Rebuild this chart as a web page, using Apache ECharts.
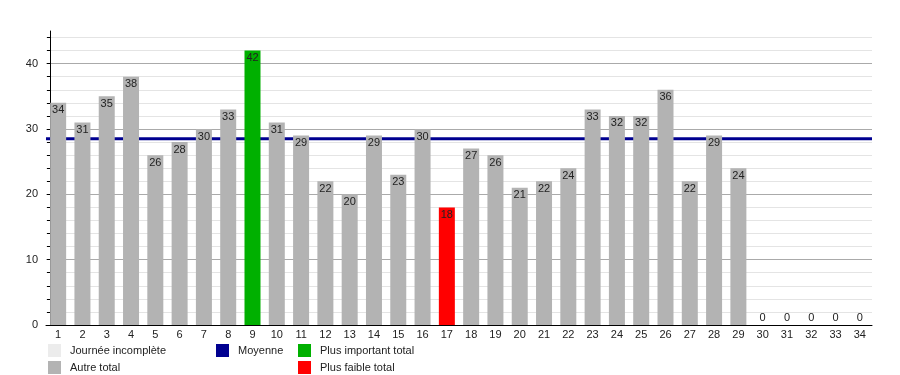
<!DOCTYPE html>
<html>
<head>
<meta charset="utf-8">
<script src="https://cdn.jsdelivr.net/npm/echarts@6/dist/echarts.min.js"></script>
<style>
  html, body { margin: 0; padding: 0; background: #fff; }
  #chart { width: 900px; height: 375px; }
</style>
</head>
<body>
<div id="chart"></div>
<script>
// jours du mois
var days = [];
for (var d = 1; d <= 34; d++) days.push(String(d));

// totaux journaliers
var totals = [34, 31, 35, 38, 26, 28, 30, 33, 42, 31, 29, 22, 20, 29, 23, 30, 18,
  27, 26, 21, 22, 24, 33, 32, 32, 36, 22, 29, 24, 0, 0, 0, 0, 0];
var maxDay = 9;   // plus important total
var minDay = 17;  // plus faible total
var moyenne = 28.5;

var font = 'Liberation Sans, Arial, sans-serif';

// une série par couleur, empilées pour garder la même place
var autre = totals.map(function(v, i) {
  if (i + 1 === maxDay || i + 1 === minDay) return '-';
  if (v === 0) return { value: 0, label: { position: 'top', distance: 2 } };
  return v;
});
var haut = totals.map(function(v, i) { return i + 1 === maxDay ? v : '-'; });
var bas = totals.map(function(v, i) { return i + 1 === minDay ? v : '-'; });

var barLabel = {
  show: true,
  position: 'insideTop',
  distance: 2,
  fontSize: 11,
  fontFamily: font,
  color: '#222'
};

// une légende par entrée, placée à la main
function legendItem(name, left, top) {
  return {
    left: left, top: top, orient: 'horizontal', itemGap: 0,
    itemWidth: 13, itemHeight: 13, icon: 'rect',
    textStyle: { fontSize: 11, color: '#222', fontFamily: font, padding: [0, 0, 0, 4] },
    data: [name]
  };
}

var chart = echarts.init(document.getElementById('chart'));
chart.setOption({
  animation: false,
  textStyle: { fontFamily: font },
  grid: { left: 46, right: 28, top: 31, bottom: 50 },
  legend: [
    legendItem('Journée incomplète', 43, 339),
    legendItem('Autre total', 43, 356),
    legendItem('Moyenne', 211, 339),
    legendItem('Plus important total', 293, 339),
    legendItem('Plus faible total', 293, 356)
  ],
  xAxis: [
    {
      type: 'category',
      data: days,
      axisLine: { lineStyle: { color: '#000', width: 1 } },
      axisTick: { show: false },
      axisLabel: { fontSize: 11, color: '#222', margin: 4, fontFamily: font }
    },
    {
      // axe caché pour tracer la moyenne sur toute la largeur
      type: 'value', min: 0, max: 1, show: false
    }
  ],
  yAxis: {
    type: 'value',
    min: 0,
    max: 45,
    interval: 2,
    offset: -4,
    axisLine: { show: true, lineStyle: { color: '#000' } },
    axisTick: { show: true, length: 3, lineStyle: { color: '#000' } },
    axisLabel: {
      fontSize: 11, color: '#222', margin: 12, fontFamily: font,
      showMaxLabel: false,
      formatter: function(v) { return v % 10 === 0 ? v : ''; }
    },
    splitLine: {
      show: true,
      showMaxLine: false,
      lineStyle: { color: ['#aaaaaa', '#e4e4e4', '#e4e4e4', '#e4e4e4', '#e4e4e4'], width: 1 }
    }
  },
  series: [
    {
      name: 'Journée incomplète', type: 'bar', stack: 't',
      itemStyle: { color: '#ececec' }, data: []
    },
    {
      name: 'Moyenne', type: 'line', xAxisIndex: 1, z: 1,
      symbol: 'none', silent: true,
      itemStyle: { color: '#000090' },
      lineStyle: { color: '#000090', width: 3 },
      data: [[0, moyenne], [1, moyenne]]
    },
    {
      name: 'Autre total', type: 'bar', stack: 't', z: 3, barWidth: 16,
      itemStyle: { color: '#b3b3b3' }, label: barLabel, data: autre
    },
    {
      name: 'Plus important total', type: 'bar', stack: 't', z: 3, barWidth: 16,
      itemStyle: { color: '#00b000' }, label: barLabel, data: haut
    },
    {
      name: 'Plus faible total', type: 'bar', stack: 't', z: 3, barWidth: 16,
      itemStyle: { color: '#ff0000' }, label: barLabel, data: bas
    }
  ]
});
</script>
</body>
</html>
